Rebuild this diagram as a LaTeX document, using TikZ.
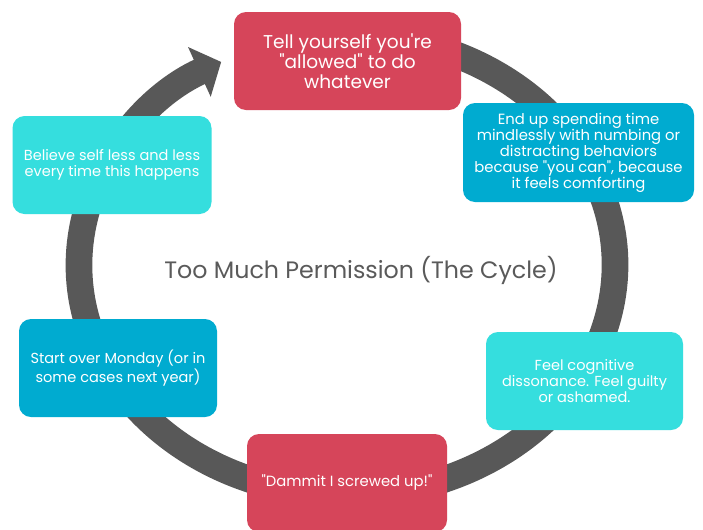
\documentclass[tikz,border=0pt]{standalone}
\usepackage{fontspec}
\setmainfont{Poppins}[Ligatures=TeXOff]
\usetikzlibrary{arrows.meta}
\definecolor{boxred}{HTML}{D6455A}
\definecolor{boxcyan}{HTML}{35DEDE}
\definecolor{boxblue}{HTML}{00ABD0}
\definecolor{ringgray}{HTML}{585858}
\definecolor{titlegray}{HTML}{5A5A5A}
\tikzset{
  stepbox/.style={rounded corners=9pt, inner sep=0pt, align=center, text=white,
    minimum height=73.5pt},
  redbox/.style={stepbox, fill=boxred},
  cyanbox/.style={stepbox, fill=boxcyan},
  bluebox/.style={stepbox, fill=boxblue},
  smalltext/.style={font=\fontsize{10.9}{12}\selectfont},
  ring/.style={draw=ringgray, line width=20pt,
    -{Triangle[width=40pt, length=18pt]}},
}
\begin{document}
\begin{tikzpicture}[x=0.75pt, y=-0.75pt]
\clip (0,0) rectangle (703,529);
\fill[white] (0,0) rectangle (703,529);
% cycle ring
\draw[ring] (347,265) ++(-80:268 and 230)
  arc[start angle=-80, end angle=242, x radius=268, y radius=230];
% boxes
\node[redbox, minimum width=170.25pt, font=\fontsize{13.9}{15}\selectfont] (tell) at (347.5,61)
  {Tell yourself you're\\"allowed" to do\\whatever};
\node[bluebox, minimum width=173.25pt, minimum height=74.25pt, font=\fontsize{11.1}{12}\selectfont] (spend) at (578.5,152.5)
  {End up spending time\\mindlessly with numbing or\\distracting behaviors\\because "you can", because\\it feels comforting};
\node[cyanbox, minimum width=147.75pt, smalltext] (feel) at (584.5,381)
  {Feel cognitive\\dissonance. Feel guilty\\or ashamed.};
\node[redbox, minimum width=150pt, font=\fontsize{11.1}{12}\selectfont] (dammit) at (347,483)
  {"Dammit I screwed up!"};
\node[bluebox, minimum width=148.5pt, smalltext] (start) at (118,368)
  {Start over Monday (or in\\some cases next year)};
\node[cyanbox, minimum width=149.25pt, smalltext] (believe) at (112,165)
  {Believe self less and less\\every time this happens};
% title
\node[text=titlegray, font=\fontsize{17.8}{20}\selectfont] (title) at (361,270)
  {Too Much Permission (The Cycle)};
\end{tikzpicture}
\end{document}
